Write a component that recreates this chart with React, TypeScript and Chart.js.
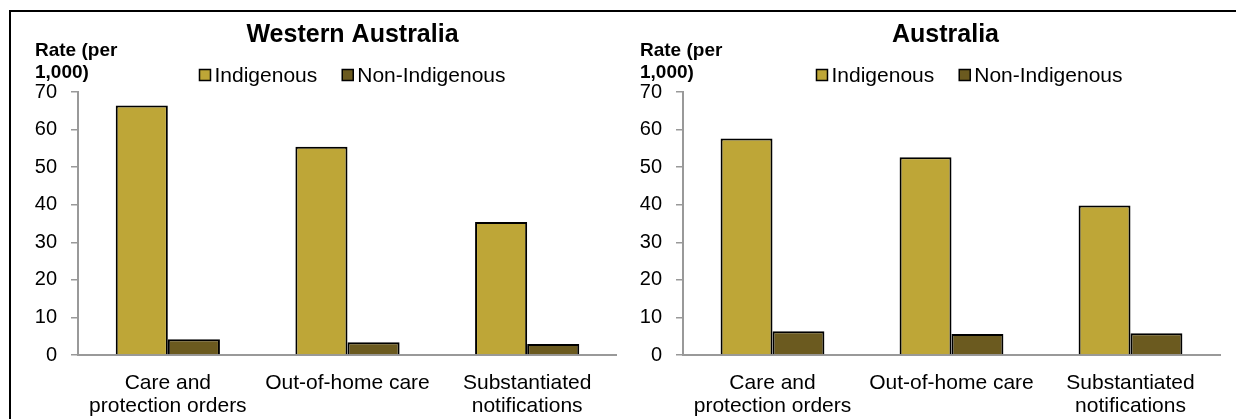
import React, { useEffect, useRef } from "react";
import { Chart, registerables } from "chart.js";

Chart.register(...registerables);

const categories: (string | string[])[] = [
  ["Care and", "protection orders"],
  "Out-of-home care",
  ["Substantiated", "notifications"],
];
const seriesNames = ["Indigenous", "Non-Indigenous"];
const seriesColors = ["#BEA637", "#6B5A1F"];
const waIndigenous = [66.4, 55.4, 35.4];
const waNonIndigenous = [4.2, 3.4, 2.9];
const ausIndigenous = [57.6, 52.6, 39.8];
const ausNonIndigenous = [6.3, 5.6, 5.8];
const yMin = 0;
const yMax = 70;
const yStep = 10;
const yAxisTitle = ["Rate (per", "1,000)"];
const panelTitles = ["Western Australia", "Australia"];

const FONT = "'Liberation Sans', Arial, sans-serif";

const headerPlugin = {
  id: "header",
  afterDraw(chart: any, _args: any, opts: any) {
    const { ctx, chartArea } = chart;
    const top = chartArea.top;
    const cx = (chartArea.left + chartArea.right) / 2;
    ctx.save();
    ctx.fillStyle = "#000";
    ctx.textBaseline = "middle";
    // axis title
    ctx.font = `bold 19px ${FONT}`;
    ctx.textAlign = "left";
    (opts.axisTitle as string[]).forEach((l, i) => {
      ctx.fillText(l, chartArea.left - 43, top - 41 + i * 22);
    });
    // title
    ctx.font = `bold 25px ${FONT}`;
    ctx.textAlign = "center";
    ctx.fillText(opts.title, cx + (opts.titleOffset || 0), top - 57);
    // legend
    ctx.font = `21px ${FONT}`;
    const box = 11;
    const gapText = 4;
    const gapItem = 25;
    const names: string[] = opts.names;
    const widths = names.map((n) => ctx.measureText(n).width);
    const total =
      widths.reduce((a, w) => a + box + gapText + w, 0) + gapItem * (names.length - 1);
    let x = cx + (opts.legendOffset || 0) - total / 2;
    const ly = top - 17;
    ctx.textAlign = "left";
    names.forEach((n, i) => {
      ctx.fillStyle = opts.colors[i];
      ctx.fillRect(x, ly - box / 2, box, box);
      ctx.strokeStyle = "#000";
      ctx.lineWidth = 1.5;
      ctx.strokeRect(x, ly - box / 2, box, box);
      ctx.fillStyle = "#000";
      ctx.fillText(n, x + box + gapText, ly + 1);
      x += box + gapText + widths[i] + gapItem;
    });
    ctx.restore();
  },
};

type PanelProps = {
  width: number;
  height: number;
  title: string;
  a: number[];
  b: number[];
  axisWidth: number;
  padRight: number;
  titleOffset: number;
  legendOffset: number;
};

function Panel(p: PanelProps) {
  const ref = useRef<HTMLCanvasElement | null>(null);
  useEffect(() => {
    if (!ref.current) return;
    const chart = new Chart(ref.current, {
      type: "bar",
      data: {
        labels: categories,
        datasets: [
          {
            label: seriesNames[0],
            data: p.a,
            backgroundColor: seriesColors[0],
            borderColor: "#000",
            borderWidth: 2,
          },
          {
            label: seriesNames[1],
            data: p.b,
            backgroundColor: seriesColors[1],
            borderColor: "#000",
            borderWidth: 2,
          },
        ],
      },
      options: {
        animation: false,
        responsive: false,
        devicePixelRatio: 1,
        layout: { padding: { top: 80, right: p.padRight, left: 0, bottom: 0 } },
        datasets: { bar: { categoryPercentage: 0.58, barPercentage: 1 } },
        plugins: {
          legend: { display: false },
          title: { display: false },
          tooltip: { enabled: false },
          header: {
            title: p.title,
            axisTitle: yAxisTitle,
            names: seriesNames,
            colors: seriesColors,
            titleOffset: p.titleOffset,
            legendOffset: p.legendOffset,
          },
        } as any,
        scales: {
          x: {
            grid: { display: false, drawTicks: false },
            border: { display: true, color: "#999", width: 2 },
            ticks: {
              color: "#000",
              font: { family: FONT, size: 21, lineHeight: 1.12 },
              padding: 16,
              maxRotation: 0,
              autoSkip: false,
            },
            afterFit: (s: any) => {
              s.height = 64;
            },
          },
          y: {
            min: yMin,
            max: yMax,
            grid: {
              drawOnChartArea: false,
              drawTicks: true,
              tickLength: 7,
              color: "#999",
              lineWidth: 1.5,
            },
            border: { display: true, color: "#999", width: 2 },
            ticks: {
              stepSize: yStep,
              color: "#000",
              font: { family: FONT, size: 20 },
              padding: 14,
            },
            afterFit: (s: any) => {
              s.width = p.axisWidth;
            },
          },
        },
      },
      plugins: [headerPlugin as any],
    });
    return () => chart.destroy();
  }, []);
  return (
    <div style={{ width: p.width, height: p.height, flex: "none" }}>
      <canvas
        ref={ref}
        width={p.width}
        height={p.height}
        style={{ width: p.width, height: p.height, display: "block" }}
      />
    </div>
  );
}

export default function App() {
  return (
    <div
      style={{
        position: "absolute",
        left: 9,
        top: 10,
        width: 1227,
        height: 409,
        borderTop: "2px solid #000",
        borderLeft: "2px solid #000",
        display: "flex",
        overflow: "hidden",
        background: "#fff",
      }}
    >
      <Panel
        width={606}
        height={407}
        title={panelTitles[0]}
        a={waIndigenous}
        b={waNonIndigenous}
        axisWidth={67}
        padRight={0}
        titleOffset={5}
        legendOffset={5}
      />
      <Panel
        width={619}
        height={407}
        title={panelTitles[1]}
        a={ausIndigenous}
        b={ausNonIndigenous}
        axisWidth={66}
        padRight={16}
        titleOffset={-6}
        legendOffset={18}
      />
    </div>
  );
}
